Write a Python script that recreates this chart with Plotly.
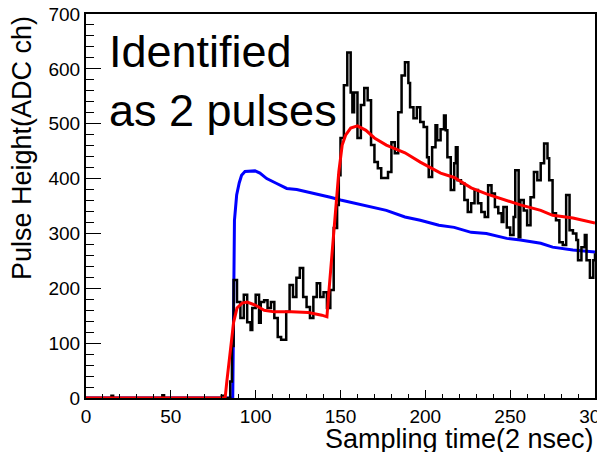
import plotly.graph_objects as go

# ---- data ----
data_x = [0, 14, 15, 16, 44, 45, 46, 79, 80, 81, 84, 85, 86, 87, 89, 91, 93, 95, 97, 98, 100, 102, 103, 105, 107,
          109, 111, 113, 115, 118, 120, 122, 124, 126, 128, 130, 132, 134, 136, 138, 140, 142, 144, 146,
          148, 149, 150, 152, 154, 156, 157, 158, 160, 162, 164, 166, 168, 170, 172, 174, 176, 178, 180,
          182, 184, 186, 188, 190, 191, 193, 195, 197, 199, 201, 202, 204, 206, 207, 209, 211, 212, 213,
          215, 217, 218, 219, 221, 223, 225, 227, 229, 231, 233, 235, 237, 239, 241, 243, 245, 246, 248,
          250, 252, 253, 255, 256, 258, 260, 262, 264, 266, 268, 270, 272, 273, 275, 277, 279, 281, 283,
          285, 287, 289, 290, 292, 294, 295, 297, 299, 300]
data_y = [0, 0, 4, 0, 0, 5, 0, 0, 4, 0, 0, 30, 95, 215, 175, 146, 188, 138, 124, 164, 188, 137, 175, 178, 164,
          175, 146, 111, 106, 157, 206, 184, 219, 237, 184, 166, 146, 184, 209, 184, 193, 164, 197, 310,
          352, 406, 474, 570, 630, 557, 521, 557, 474, 534, 565, 543, 461, 430, 419, 401, 401, 412, 466,
          446, 521, 588, 612, 574, 530, 510, 530, 503, 494, 439, 403, 457, 497, 470, 490, 515, 488, 439,
          379, 428, 457, 397, 391, 361, 339, 355, 379, 355, 339, 330, 388, 373, 348, 337, 321, 348, 311,
          297, 330, 415, 293, 361, 342, 315, 366, 412, 397, 428, 464, 437, 397, 337, 324, 284, 279, 370,
          306, 300, 288, 251, 275, 297, 251, 219, 251, 264]

template_x = [0, 86.5, 87.5, 88.8, 90.3, 91.7, 93.7, 99.6, 102.5, 106.5, 112.4, 118.3, 124.2, 132, 138,
              144, 150, 156, 165, 177, 188, 197, 208, 217, 227, 236, 248, 256, 268, 275, 287, 300]
template_y = [0, 0, 324, 370, 392, 406, 413, 414, 410, 400, 391, 382, 380, 375, 371, 366, 361, 357, 350,
              342, 330, 324, 315, 311, 302, 300, 291, 288, 282, 275, 270, 266]

fit_x = [0, 82, 83, 85, 87, 89, 92, 95, 100, 105, 111, 121, 131, 139, 142, 143, 145, 147, 149, 151, 153,
         156, 160, 165, 170, 177, 188, 197, 209, 217, 227, 236, 248, 256, 268, 275, 287, 300]
fit_y = [0, 0, 30, 84, 138, 164, 173, 175, 169, 160, 157, 157, 156, 151, 148, 188, 266, 333, 412, 461, 479,
         492, 496, 488, 474, 461, 447, 430, 410, 402, 383, 372, 360, 352, 342, 333, 328, 319]

x_tick_vals = [0, 50, 100, 150, 200, 250, 300]
y_tick_vals = [0, 100, 200, 300, 400, 500, 600, 700]
x_title = "Sampling time(2 nsec)"
y_title = "Pulse Height(ADC ch)"
label_text = "Identified<br>as 2 pulses"

W, H = 597, 452
L, R, T, B = 86, 2, 14, 54
pw, ph = W - L - R, H - T - B

fig = go.Figure()
fig.add_trace(go.Scatter(x=template_x, y=template_y, mode="lines",
                         line=dict(color="#0000ff", width=3), showlegend=False))
fig.add_trace(go.Scatter(x=data_x, y=data_y, mode="lines", line_shape="hv",
                         line=dict(color="#000000", width=2.5), showlegend=False))
fig.add_trace(go.Scatter(x=fit_x, y=fit_y, mode="lines",
                         line=dict(color="#ff0000", width=3), showlegend=False))

font_family = "Liberation Sans, Arial, sans-serif"

fig.update_layout(
    width=W, height=H,
    margin=dict(l=L, r=R, t=T, b=B, pad=0, autoexpand=False),
    paper_bgcolor="white", plot_bgcolor="white",
    font=dict(family=font_family, color="black"),
    xaxis=dict(range=[0, 300], showgrid=False, zeroline=False, automargin=False,
               showline=True, linecolor="black", linewidth=2, mirror=True,
               ticks="inside", ticklen=8, tickwidth=1, tickcolor="black",
               tickvals=x_tick_vals, ticktext=[str(v) for v in x_tick_vals],
               ticklabeloverflow="allow",
               tickfont=dict(size=19, family=font_family),
               minor=dict(ticks="inside", ticklen=4, dtick=10, tickcolor="black", tickwidth=1, showgrid=False)),
    yaxis=dict(range=[0, 700], showgrid=False, zeroline=False, automargin=False,
               showline=True, linecolor="black", linewidth=2, mirror=True,
               ticks="inside", ticklen=15, tickwidth=1, tickcolor="black",
               tickvals=y_tick_vals,
               tickfont=dict(size=19, family=font_family),
               minor=dict(ticks="inside", ticklen=8, dtick=20, tickcolor="black", tickwidth=1, showgrid=False)),
    annotations=[
        dict(text=x_title, xref="paper", yref="paper",
             x=(596 - L) / pw, y=(398 - 439) / ph, xanchor="right", yanchor="middle",
             showarrow=False, font=dict(size=27, family=font_family, color="black")),
        dict(text=y_title, xref="paper", yref="paper", textangle=-90,
             x=(22 - L) / pw, y=(398 - 14) / ph, xanchor="center", yanchor="top",
             showarrow=False, font=dict(size=27, family=font_family, color="black")),
        dict(text=label_text, xref="paper", yref="paper", align="left",
             x=(107 - L) / pw, y=(398 - 24) / ph, xanchor="left", yanchor="top",
             showarrow=False, font=dict(size=45, family=font_family, color="black")),
    ],
)

fig.write_html("out.html", config={"displayModeBar": False},
               post_script="document.body.style.margin='0';")
